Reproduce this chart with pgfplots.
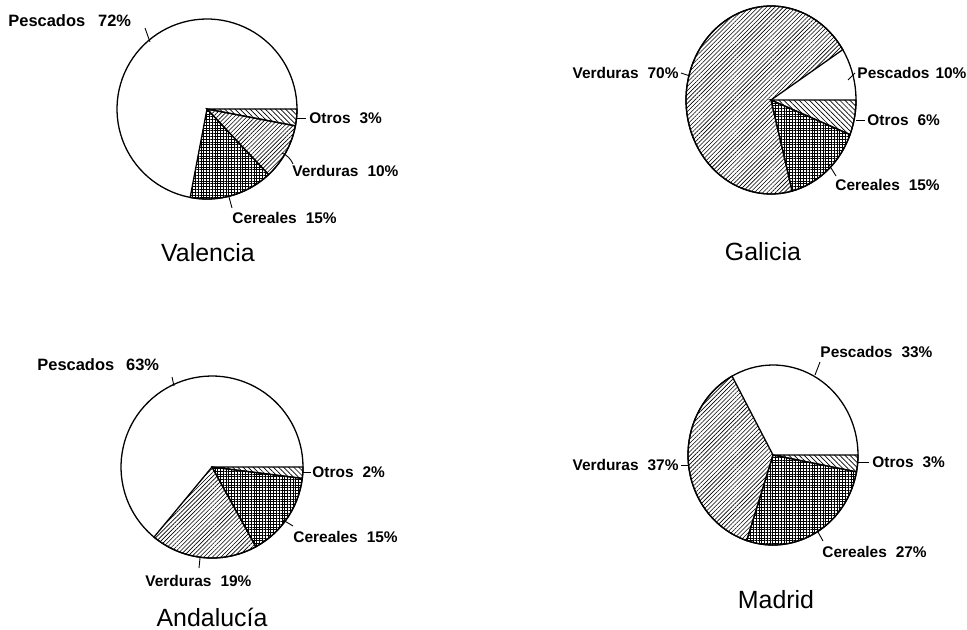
\documentclass[border=0pt]{standalone}
\usepackage{fontspec}
\setmainfont{Liberation Sans}
\usepackage{pgfplots}
\pgfplotsset{compat=1.18}
\usepackage{pgfplotstable}
\usetikzlibrary{patterns.meta}

% slices in clockwise order from 3 o'clock; Pescados is the white remainder
\pgfplotstableread{
cat      pct
Otros    3
Verduras 10
Cereales 15
Pescados 72
}\valencia
\pgfplotstableread{
cat      pct
Otros    6
Cereales 15
Verduras 70
Pescados 10
}\galicia
\pgfplotstableread{
cat      pct
Otros    2
Cereales 15
Verduras 19
Pescados 63
}\andalucia
\pgfplotstableread{
cat      pct
Otros    3
Cereales 27
Verduras 37
Pescados 33
}\madrid

\pgfplotsset{
  pie/.style={hide axis, clip=false, scale only axis,
    xmin=-1, xmax=1, ymin=-1, ymax=1, anchor=origin},
  wedge/.style={draw=black, line width=1.3pt, samples=100},
  Otros/.style={pattern={Lines[angle=-45,distance=3.6pt,line width=0.7pt]}},
  Verduras/.style={pattern={Lines[angle=45,distance=3pt,line width=0.6pt]}},
  Cereales/.style={pattern={Hatch[angle=0,distance=2.8pt,line width=0.5pt]}},
  Pescados/.style={draw=none, fill=none},
}

\newcommand\drawpie[1]{%
  \addplot[wedge, fill=white, domain=0:360] ({cos(x)},{sin(x)}) -- cycle;
  \def\cum{0}%
  \pgfplotstablegetrowsof{#1}%
  \pgfmathtruncatemacro\lastrow{\pgfplotsretval-1}%
  \pgfplotsforeachungrouped \rowi in {0,...,\lastrow}{%
    \pgfplotstablegetelem{\rowi}{cat}\of{#1}\let\slicecat=\pgfplotsretval
    \pgfplotstablegetelem{\rowi}{pct}\of{#1}\let\slicepct=\pgfplotsretval
    \pgfmathsetmacro\sliceLo{-3.6*(\cum+\slicepct)}%
    \pgfmathsetmacro\sliceHi{-3.6*\cum}%
    \pgfmathsetmacro\cum{\cum+\slicepct}%
    \edef\tmp{\noexpand\addplot[wedge,\slicecat,domain=\sliceLo:\sliceHi]
      ({cos(x)},{sin(x)}) -- (axis cs:0,0) -- cycle;}%
    \tmp
  }%
}

\newcommand\lab{\fontsize{15.5}{18}\selectfont\bfseries}
\newcommand\labp{\fontsize{16.5}{19}\selectfont\bfseries}
\newcommand\city{\fontsize{25}{28}\selectfont}
\newcommand\gap{\hspace{9bp}}

\begin{document}
\begin{tikzpicture}[x=1bp, y=-1bp]
\path[use as bounding box] (0,0) rectangle (967,630);

\begin{axis}[pie, x=90bp, y=90bp, at={(207bp,-109bp)}]
  \drawpie{\valencia}
\end{axis}
\begin{axis}[pie, x=85bp, y=94bp, at={(771bp,-100bp)}]
  \drawpie{\galicia}
\end{axis}
\begin{axis}[pie, x=91bp, y=91bp, at={(212bp,-467bp)}]
  \drawpie{\andalucia}
\end{axis}
\begin{axis}[pie, x=85bp, y=90bp, at={(773bp,-455bp)}]
  \drawpie{\madrid}
\end{axis}

\begin{scope}[line width=0.9pt]
% Valencia
\node[anchor=west, inner sep=0] at (8,21) {\labp Pescados\hspace{13bp}72\%};
\draw (145,28) -- (150,42);
\draw (297,118) -- (306,118);
\node[anchor=west, inner sep=0] at (309,118) {\lab Otros\gap3\%};
\draw (282,153) to[bend left=20] (293,164);
\node[anchor=west, inner sep=0] at (292,171) {\lab Verduras\gap10\%};
\draw (229,197) -- (232,208);
\node[anchor=west, inner sep=0] at (232,218) {\lab Cereales\gap15\%};
\node at (208,253) {\city Valencia};
% Galicia
\node[anchor=east, inner sep=0] at (679,73) {\lab Verduras\gap70\%};
\draw (681,73) -- (690,76);
\draw (848,80) -- (855,73);
\node[anchor=west, inner sep=0] at (857,73) {\lab Pescados\hspace{6bp}10\%};
\draw (856,120) -- (865,120);
\node[anchor=west, inner sep=0] at (867,120) {\lab Otros\gap6\%};
\draw (828,163) -- (836,176);
\node[anchor=west, inner sep=0] at (835,185) {\lab Cereales\gap15\%};
\node at (763,252) {\city Galicia};
% Andalucia
\node[anchor=west, inner sep=0] at (37,365) {\labp Pescados\hspace{12bp}63\%};
\draw (172,377) -- (174,386);
\draw (302,472) -- (311,472);
\node[anchor=west, inner sep=0] at (312,472) {\lab Otros\gap2\%};
\draw (283,520) -- (293,526);
\node[anchor=west, inner sep=0] at (293,537) {\lab Cereales\gap15\%};
\draw (200,558) -- (199,568);
\node[anchor=west, inner sep=0] at (145,581) {\lab Verduras\gap19\%};
\node at (212,617) {\city Andalucía};
% Madrid
\node[anchor=west, inner sep=0] at (820,352) {\lab Pescados\gap33\%};
\draw (815,375) -- (820,362);
\node[anchor=east, inner sep=0] at (679,465) {\lab Verduras\gap37\%};
\draw (681,465) -- (688,465);
\draw (858,462) -- (869,462);
\node[anchor=west, inner sep=0] at (872,462) {\lab Otros\gap3\%};
\draw (818,532) -- (823,541);
\node[anchor=west, inner sep=0] at (822,552) {\lab Cereales\gap27\%};
\node at (776,600) {\city Madrid};
\end{scope}
\end{tikzpicture}
\end{document}
